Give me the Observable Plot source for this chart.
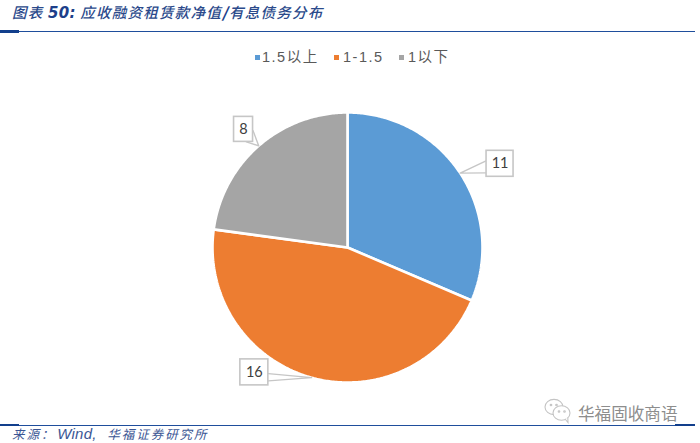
<!DOCTYPE html>
<html><head><meta charset="utf-8">
<script src="https://cdn.jsdelivr.net/npm/d3@7"></script>
<script src="https://cdn.jsdelivr.net/npm/@observablehq/plot@0.6"></script>
<style>
html,body{margin:0;padding:0;background:#fff}
#page{position:relative;width:700px;height:443px;overflow:hidden;font-family:"Noto Sans CJK SC",sans-serif}
#page>*{position:absolute}
.rule{background:#1f4e9c;left:0;height:1.5px;width:695px}
.tab{background:#123f8c;left:0;height:2.5px;width:19px}
.ttl{left:12px;top:2px;font-size:14.5px;line-height:20px;font-style:italic;color:#2b4a8b;letter-spacing:1.25px;white-space:nowrap;font-weight:500}
.ttl b{font-family:"DejaVu Sans";font-weight:700;font-size:15px;color:#1d3f8a;letter-spacing:.3px}
.ttl u{text-decoration:none;font-weight:900;color:#1d3f8a}
.src{left:12px;top:426px;font-size:12.5px;line-height:16px;font-style:italic;color:#3b5694;letter-spacing:1.95px;white-space:nowrap}
.src i{font-family:"Liberation Sans";font-size:15px;letter-spacing:.2px;margin:0 6px 0 2px}
.leg{top:46.5px;height:20px;line-height:20px;font-size:14.5px;font-family:"Liberation Sans","Noto Sans CJK SC",sans-serif;color:#595959;white-space:nowrap;letter-spacing:1.5px}
.sw{width:5px;height:5px;top:55px}
.wm{left:578px;top:401px;font-size:16.6px;line-height:24px;color:#8d8d8d;white-space:nowrap}
#chart{left:0;top:75px}
</style></head><body>
<div id="page">
  <div class="ttl">图表 <b>50:</b> 应收融资租赁款净值<u>/</u>有息债务分布</div>
  <div class="rule" style="top:30.5px"></div><div class="tab" style="top:30px"></div>
  <div id="legend"></div>
  <div id="chart"></div>
  <svg style="left:544px;top:398px" width="28" height="26" viewBox="0 0 28 26" fill="#fff" stroke="#c4c4c4" stroke-width="1.1">
    <ellipse cx="10" cy="9" rx="9" ry="7.6"/><ellipse cx="17.5" cy="15" rx="8.5" ry="7.2"/>
    <path d="M21 21l3 3.5-.2-5" /><circle cx="7" cy="7" r=".8"/><circle cx="12.5" cy="7" r=".8"/><circle cx="15" cy="13.5" r=".8"/><circle cx="20.5" cy="13.5" r=".8"/>
  </svg>
  <div class="wm">华福固收商语</div>
  <div class="rule" style="top:424.5px"></div><div class="tab" style="top:424px;height:2px"></div>
  <div class="tab" style="top:424px;height:2px;left:675px;width:20px"></div>
  <div class="src">来源：<i>Wind,</i> 华福证券研究所</div>
</div>
<script>
const categories = ["1.5以上", "1-1.5", "1以下"];
const counts = [11, 16, 8];
const colors = ["#5B9BD5", "#ED7D31", "#A5A5A5"];

// Label-box centres, in pie radii from the centre of the pie
const boxX = [1.13, -0.69, -0.77];
const boxY = [0.62, -0.925, 0.875];
const boxW = [27, 28, 19];
const boxH = [26, 26, 25];
const legendX = [262, 343, 408];
const swatchX = [255, 334, 399];

const R = 135, cx = 347, cy = 247, top0 = 75;
const pxX = R, pxY = R;

const arcs = d3.pie().sort(null)(counts);
const pt = (a, r = 1) => [r * Math.sin(a), r * Math.cos(a)];

const slices = arcs.flatMap((s, i) => {
  const n = Math.ceil((s.endAngle - s.startAngle) * 90);
  const pts = [[0, 0]];
  for (let k = 0; k <= n; k++) pts.push(pt(s.startAngle + (s.endAngle - s.startAngle) * k / n));
  pts.push([0, 0]);
  return pts.map(([x, y], j) => ({x, y, category: categories[i], j}));
});

const labels = arcs.map((s, i) => ({
  value: counts[i], mid: (s.startAngle + s.endAngle) / 2,
  bx: boxX[i], by: boxY[i], w: boxW[i] / pxX / 2, h: boxH[i] / pxY / 2, i
}));

// Leader wedge: from the slice's mid-angle on the rim to the nearest box edge
const wedgeRows = labels.flatMap(d => {
  const [tx, ty] = pt(d.mid);
  let a, b;
  if (d.i === 0) { a = [d.bx - d.w, d.by + d.h * 0.25]; b = [d.bx - d.w, d.by - d.h * 0.7]; }
  else if (d.i === 1) { a = [d.bx + d.w, d.by - d.h * 0.1]; b = [d.bx + d.w, d.by - d.h * 0.65]; }
  else { a = [d.bx + d.w, d.by - d.h * 0.1]; b = [d.bx + d.w * 0.3, d.by - d.h]; }
  return [a, [tx, ty], b].map(([x, y]) => ({x, y, i: d.i}));
});

const chart = Plot.plot({
  width: 700, height: 345,
  margin: 0,
  x: {domain: [-1, 1], range: [cx - R, cx + R], axis: null},
  y: {domain: [-1, 1], range: [cy - top0 + R, cy - top0 - R], axis: null},
  color: {domain: categories, range: colors},
  style: {background: "transparent"},
  marks: [
    Plot.line(slices, {x: "x", y: "y", z: "category", fill: "category", stroke: "#fff", strokeWidth: 2.6, strokeLinejoin: "miter", curve: "linear"}),
    Plot.line(wedgeRows, {x: "x", y: "y", z: "i", stroke: "#c6c6c6", strokeWidth: 1.4, fill: "none", curve: "linear"}),
    Plot.rect(labels, {x1: d => d.bx - d.w, x2: d => d.bx + d.w, y1: d => d.by - d.h, y2: d => d.by + d.h, fill: "#fff", stroke: "#c6c6c6", strokeWidth: 1.6}),
    Plot.text(labels, {x: "bx", y: "by", text: d => String(d.value), fontFamily: "Lato", fontSize: 14.5, fill: "#404040"})
  ]
});
document.getElementById("chart").append(chart);

const page = document.getElementById("page");
categories.forEach((c, i) => {
  const sw = document.createElement("div");
  sw.className = "sw"; sw.style.left = swatchX[i] + "px"; sw.style.background = colors[i];
  sw.style.position = "absolute";
  page.append(sw);
  const t = document.createElement("div");
  t.className = "leg"; t.style.left = legendX[i] + "px"; t.textContent = c;
  t.style.position = "absolute";
  page.append(t);
});
</script>
</body></html>
